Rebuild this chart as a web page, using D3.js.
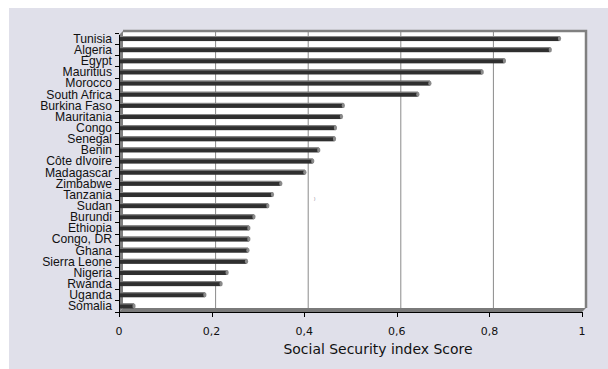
<!DOCTYPE html>
<html>
<head>
<meta charset="utf-8">
<script src="https://cdn.jsdelivr.net/npm/d3@7"></script>
<style>
  html, body { margin: 0; padding: 0; background: #ffffff; }
  svg { display: block; }
</style>
</head>
<body>
<div id="chart"></div>
<script>
// Social Security index score by country
const countries = [
  "Tunisia", "Algeria", "Egypt", "Mauritius", "Morocco", "South Africa",
  "Burkina Faso", "Mauritania", "Congo", "Senegal", "Benin", "Côte dIvoire",
  "Madagascar", "Zimbabwe", "Tanzania", "Sudan", "Burundi", "Ethiopia",
  "Congo, DR", "Ghana", "Sierra Leone", "Nigeria", "Rwanda", "Uganda", "Somalia"
];
const scores = [
  0.945, 0.925, 0.826, 0.778, 0.665, 0.639,
  0.478, 0.474, 0.461, 0.459, 0.425, 0.412,
  0.395, 0.343, 0.325, 0.315, 0.285, 0.274,
  0.274, 0.272, 0.269, 0.227, 0.214, 0.179, 0.026
];
const xTicks = [0, 0.2, 0.4, 0.6, 0.8, 1];
const xTickLabels = ["0", "0,2", "0,4", "0,6", "0,8", "1"];
const xTitle = "Social Security index Score";

const W = 608, H = 369;
const depth = 4;            // 3D offset of the back wall
const axisY = 312;          // front edge of the floor / x axis
const wallTop = 31;

const svg = d3.select("#chart").append("svg")
  .attr("width", W).attr("height", H);

// chart area background
svg.append("rect")
  .attr("x", 9).attr("y", 8).attr("width", W - 9).attr("height", H - 8)
  .attr("fill", "#e0e0ea");

const x = d3.scaleLinear().domain([0, 1]).range([119, 582]);
const y = d3.scaleBand().domain(countries).range([33, 311.5]).paddingInner(0).paddingOuter(0);

// back wall
svg.append("rect")
  .attr("x", x(0) + depth).attr("y", wallTop)
  .attr("width", x(1) - x(0)).attr("height", axisY - depth - wallTop)
  .attr("fill", "#ffffff");

// gridlines on the back wall
svg.append("g").selectAll("line")
  .data(xTicks.slice(1, -1))
  .join("line")
  .attr("x1", d => x(d) + depth).attr("x2", d => x(d) + depth)
  .attr("y1", wallTop).attr("y2", axisY - depth)
  .attr("stroke", "#8a8a8a").attr("stroke-width", 1);

// wall borders (top and right)
svg.append("path")
  .attr("d", `M${x(0) + depth},${wallTop} H${x(1) + depth} V${axisY - depth}`)
  .attr("fill", "none").attr("stroke", "#808080").attr("stroke-width", 2.5);

// left side wall
svg.append("path")
  .attr("d", `M${x(0)},${wallTop + depth} L${x(0) + depth},${wallTop} L${x(0) + depth},${axisY - depth} L${x(0)},${axisY} Z`)
  .attr("fill", "#808080");

// floor
svg.append("path")
  .attr("d", `M${x(0)},${axisY} L${x(0) + depth},${axisY - depth} L${x(1) + depth},${axisY - depth} L${x(1)},${axisY} Z`)
  .attr("fill", "#7a7a7a");

// bars
const barH = 5;
const bars = svg.append("g").selectAll("g")
  .data(countries.map((c, i) => ({ c, v: scores[i] })))
  .join("g")
  .attr("transform", d => `translate(0,${y(d.c) + y.bandwidth() / 2 - barH / 2})`);

bars.append("rect")
  .attr("x", x(0) + 1).attr("y", 0)
  .attr("width", d => x(d.v) - x(0) + depth - 2)
  .attr("height", barH)
  .attr("fill", "#2f2f2f");
bars.append("rect")
  .attr("x", x(0) + 1).attr("y", 0)
  .attr("width", d => x(d.v) - x(0) + depth - 2)
  .attr("height", 1)
  .attr("fill", "#8c8c8c");
bars.append("ellipse")
  .attr("cx", d => x(d.v) + depth - 1).attr("cy", barH / 2)
  .attr("rx", 1.6).attr("ry", barH / 2)
  .attr("fill", "#8a8a8a");

// x axis
const xAxis = svg.append("g");
xAxis.append("line")
  .attr("x1", x(0)).attr("x2", x(1))
  .attr("y1", axisY + 0.5).attr("y2", axisY + 0.5)
  .attr("stroke", "#000").attr("stroke-width", 1);
xAxis.selectAll("line.tick")
  .data(xTicks)
  .join("line").attr("class", "tick")
  .attr("x1", d => Math.round(x(d)) + 0.5).attr("x2", d => Math.round(x(d)) + 0.5)
  .attr("y1", axisY).attr("y2", axisY + 5)
  .attr("stroke", "#000");
xAxis.selectAll("text")
  .data(xTicks)
  .join("text")
  .attr("x", d => x(d)).attr("y", 335)
  .attr("text-anchor", "middle")
  .attr("font-family", "'DejaVu Sans', sans-serif")
  .attr("font-size", 11)
  .attr("fill", "#111")
  .text((d, i) => xTickLabels[i]);

svg.append("text")
  .attr("x", 378).attr("y", 354)
  .attr("text-anchor", "middle")
  .attr("font-family", "'DejaVu Sans', sans-serif")
  .attr("font-size", 14)
  .attr("textLength", 189)
  .attr("lengthAdjust", "spacingAndGlyphs")
  .attr("fill", "#111")
  .text(xTitle);

// y axis
const yAxis = svg.append("g");
yAxis.append("line")
  .attr("x1", x(0) + 0.5).attr("x2", x(0) + 0.5)
  .attr("y1", wallTop + depth).attr("y2", axisY + 5)
  .attr("stroke", "#000");
const bounds = countries.map(c => y(c)).concat([y(countries[countries.length - 1]) + y.bandwidth()]);
yAxis.selectAll("line.tick")
  .data(bounds)
  .join("line").attr("class", "tick")
  .attr("x1", x(0) - 4).attr("x2", x(0))
  .attr("y1", d => Math.round(d) + 0.5).attr("y2", d => Math.round(d) + 0.5)
  .attr("stroke", "#000");
yAxis.selectAll("text")
  .data(countries)
  .join("text")
  .attr("x", 112)
  .attr("y", d => y(d) + y.bandwidth() / 2 + 4.3)
  .attr("text-anchor", "end")
  .attr("font-family", "'Liberation Sans', Arial, sans-serif")
  .attr("font-size", 12.2)
  .attr("fill", "#111")
  .text(d => d);

// small stray mark on the wall
svg.append("text")
  .attr("x", 314).attr("y", 200)
  .attr("font-family", "'Liberation Sans', Arial, sans-serif")
  .attr("font-size", 4)
  .attr("fill", "#666")
  .text(")");
</script>
</body>
</html>
